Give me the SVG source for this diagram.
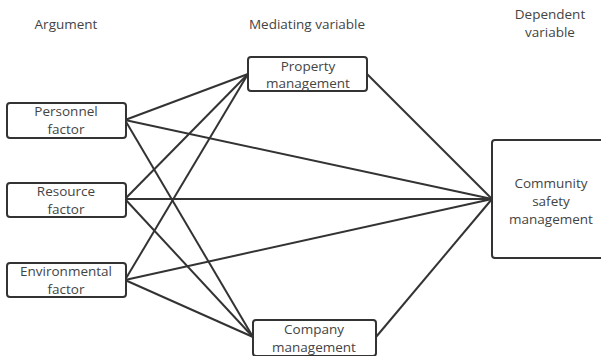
<svg xmlns="http://www.w3.org/2000/svg" width="601" height="356" viewBox="0 0 601 356">
<style>
.box{fill:#fff;stroke:#333;stroke-width:2}
.t{font-family:"Open Sans","Noto Sans",sans-serif;font-size:13.5px;fill:#444;text-anchor:middle}
.c line{stroke:#333;stroke-width:2}
</style>
<rect width="601" height="356" fill="#fff"/>
<text class="t" x="66" y="29">Argument</text>
<text class="t" x="307" y="29">Mediating variable</text>
<text class="t" x="550" y="19">Dependent</text>
<text class="t" x="550" y="37">variable</text>
<g class="c">
<line x1="125" y1="120" x2="248" y2="74"/>
<line x1="125" y1="120" x2="253" y2="337"/>
<line x1="125" y1="120" x2="492" y2="199"/>
<line x1="125" y1="199" x2="248" y2="74"/>
<line x1="125" y1="199" x2="253" y2="337"/>
<line x1="125" y1="199" x2="492" y2="199"/>
<line x1="125" y1="280" x2="248" y2="74"/>
<line x1="125" y1="280" x2="253" y2="337"/>
<line x1="125" y1="280" x2="492" y2="199"/>
<line x1="367" y1="74" x2="492" y2="199"/>
<line x1="376" y1="337" x2="492" y2="199"/>
</g>
<g id="personnel"><rect class="box" x="7" y="103" width="119" height="35" rx="3"/><text class="t" x="66" y="116">Personnel</text><text class="t" x="66" y="134">factor</text></g>
<g id="resource"><rect class="box" x="7" y="183" width="119" height="34" rx="3"/><text class="t" x="66" y="196">Resource</text><text class="t" x="66" y="214">factor</text></g>
<g id="environmental"><rect class="box" x="7" y="263" width="119" height="34" rx="3"/><text class="t" x="66" y="276">Environmental</text><text class="t" x="66" y="294">factor</text></g>
<g id="property"><rect class="box" x="248" y="57" width="119" height="34" rx="3"/><text class="t" x="308" y="71">Property</text><text class="t" x="308" y="88">management</text></g>
<g id="company"><rect class="box" x="253" y="320" width="123" height="36" rx="3"/><text class="t" x="314" y="334">Company</text><text class="t" x="314" y="352">management</text></g>
<g id="community"><rect class="box" x="492" y="140" width="115" height="118" rx="3"/><text class="t" x="551" y="188">Community</text><text class="t" x="551" y="206">safety</text><text class="t" x="551" y="224">management</text></g>
</svg>
